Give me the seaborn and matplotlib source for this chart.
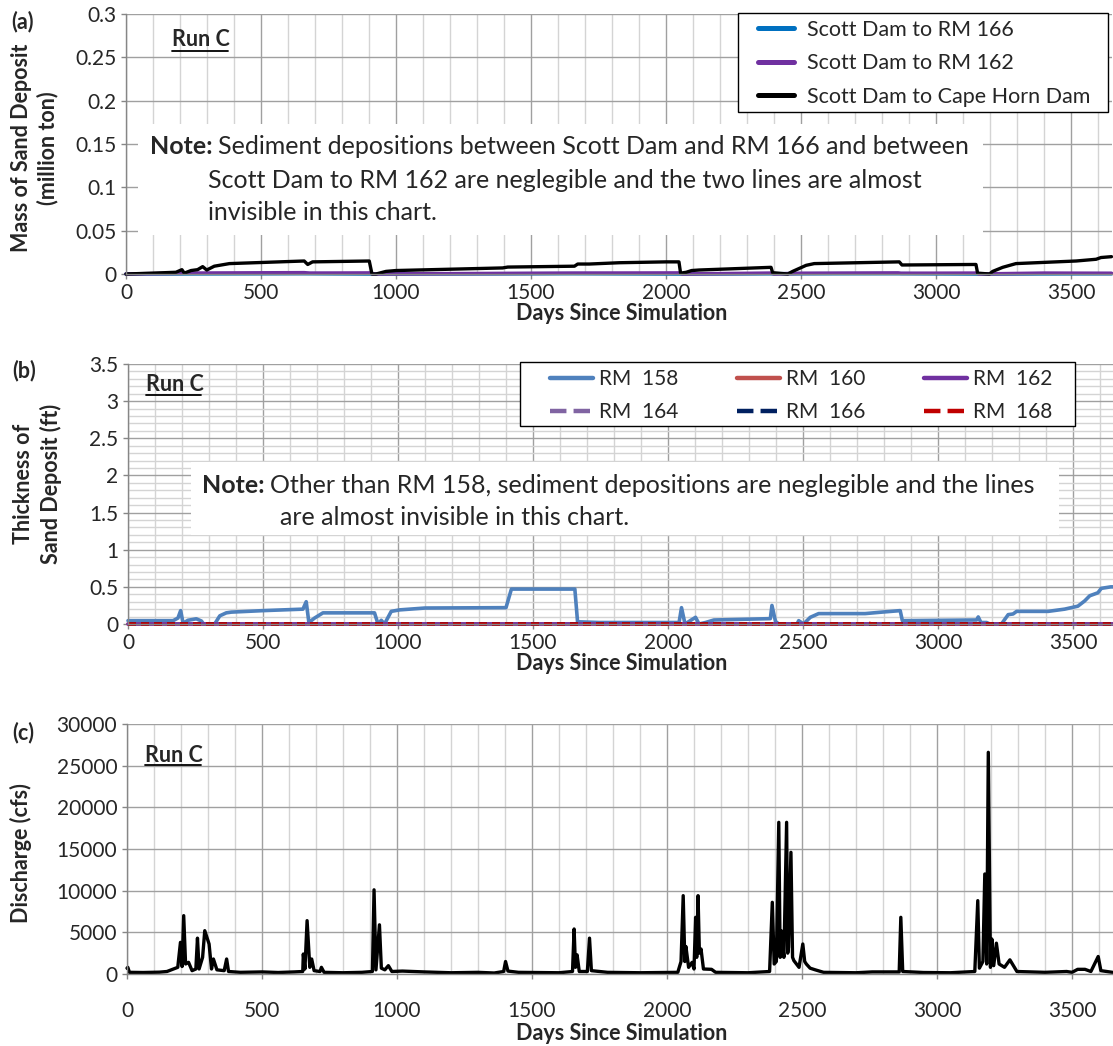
import numpy as np
import pandas as pd
import matplotlib
matplotlib.use("Agg")
import matplotlib.pyplot as plt
import seaborn as sns
from matplotlib.lines import Line2D
from matplotlib.patches import Rectangle
from matplotlib.ticker import FuncFormatter

# ---------------- data ----------------
# (a) mass of sand deposit (million ton)
a_cape_days = [0, 99, 185, 207, 216, 241, 265, 284, 299, 327, 383, 660, 673, 691, 901, 911, 926,
               963, 1000, 1395, 1414, 1661, 1673, 1716, 1827, 2000, 2048, 2054, 2075, 2095, 2123,
               2389, 2395, 2451, 2469, 2519, 2549, 2864, 2874, 3148, 3154, 3198, 3210, 3247, 3296,
               3519, 3593, 3611, 3650]
a_cape = [0, 0.001, 0.002, 0.005, 0.001, 0.004, 0.005, 0.0085, 0.0046, 0.009, 0.012, 0.015, 0.011,
          0.014, 0.015, 0.0, 0.0, 0.003, 0.004, 0.007, 0.008, 0.009, 0.0115, 0.0115, 0.013, 0.014,
          0.014, 0.001, 0.002, 0.004, 0.0046, 0.0077, 0.0015, 0.0, 0.003, 0.010, 0.012, 0.014,
          0.0104, 0.011, 0.001, 0.0, 0.003, 0.0077, 0.012, 0.015, 0.017, 0.019, 0.020]
a_162_days = [0, 200, 220, 660, 680, 905, 915, 1660, 2050, 2060, 2390, 2400, 2500, 2860, 2870,
              3150, 3160, 3400, 3650]
a_162 = [0, 0.0008, 0.001, 0.0015, 0.001, 0.0012, 0.0, 0.001, 0.0012, 0.0, 0.001, 0.0, 0.0008,
         0.0012, 0.0008, 0.001, 0.0, 0.001, 0.0008]
a_166_days = [0, 660, 915, 1660, 2050, 2390, 2860, 3150, 3650]
a_166 = [0, 0.0004, 0.0, 0.0004, 0.0, 0.0003, 0.0004, 0.0, 0.0003]

# (b) thickness of sand deposit (ft)
b_158_days = [0, 167, 185, 195, 204, 222, 253, 272, 280, 321, 340, 364, 383, 500, 648, 660, 670,
              691, 722, 913, 926, 938, 950, 975, 1006, 1100, 1400, 1420, 1655, 1665, 1745, 2041,
              2050, 2063, 2102, 2115, 2139, 2170, 2379, 2385, 2398, 2410, 2478, 2484, 2502, 2527,
              2558, 2730, 2792, 2860, 2868, 3143, 3149, 3159, 3180, 3192, 3235, 3260, 3278, 3291,
              3408, 3469, 3518, 3543, 3562, 3592, 3605, 3640, 3650]
b_158 = [0.045, 0.045, 0.08, 0.18, 0.01, 0.05, 0.07, 0.04, 0.0, 0.0, 0.11, 0.15, 0.16, 0.18, 0.20,
         0.30, 0.02, 0.08, 0.15, 0.15, 0.0, 0.05, 0.0, 0.17, 0.19, 0.215, 0.22, 0.47, 0.47, 0.03,
         0.02, 0.02, 0.22, 0.0, 0.09, 0.0, 0.02, 0.054, 0.072, 0.25, 0.036, 0.0, 0.0, 0.045, 0.0,
         0.09, 0.14, 0.14, 0.16, 0.18, 0.045, 0.054, 0.095, 0.02, 0.02, 0.0, 0.0, 0.126, 0.135,
         0.17, 0.17, 0.2, 0.24, 0.31, 0.38, 0.42, 0.48, 0.5, 0.5]
b_other_days = [0, 3650]
b_160 = [0, 0]
b_162 = [0, 0]
b_164 = [0, 0]
b_166 = [0, 0]
b_168_days = [0, 2730, 2742, 2754, 3650]
b_168 = [0, 0, 0.012, 0, 0]

# (c) discharge (cfs)
c_days = [0, 3, 9, 60, 120, 148, 188, 198, 204, 210, 217, 228, 241, 255, 261, 267, 280, 288, 296,
          304, 313, 320, 333, 360, 369, 376, 420, 500, 560, 620, 651, 653, 659, 667, 672, 677,
          684, 693, 715, 720, 730, 800, 870, 909, 915, 922, 935, 942, 955, 968, 981, 1020, 1100,
          1200, 1300, 1360, 1395, 1402, 1411, 1450, 1600, 1650, 1656, 1661, 1667, 1675, 1705,
          1713, 1720, 1780, 1900, 2040, 2052, 2060, 2066, 2070, 2080, 2093, 2100, 2106, 2110,
          2115, 2120, 2126, 2135, 2165, 2180, 2300, 2380, 2390, 2397, 2405, 2414, 2419, 2423,
          2433, 2443, 2447, 2450, 2459, 2465, 2470, 2489, 2503, 2510, 2516, 2530, 2549, 2580,
          2700, 2760, 2860, 2866, 2873, 2950, 3050, 3140, 3151, 3157, 3170, 3177, 3184, 3190,
          3198, 3203, 3210, 3220, 3230, 3250, 3270, 3296, 3400, 3480, 3500, 3521, 3548, 3570,
          3597, 3607, 3650]
c_q = [700, 800, 200, 180, 220, 300, 800, 3800, 900, 7000, 1200, 1400, 400, 600, 4300, 600, 2000,
       5200, 4400, 3600, 600, 1800, 500, 400, 1800, 300, 200, 250, 180, 250, 300, 2400, 600, 6400,
       3600, 800, 1800, 400, 300, 800, 200, 150, 200, 300, 10100, 500, 5900, 700, 500, 1000, 300,
       350, 250, 150, 200, 120, 300, 1500, 350, 200, 150, 300, 5400, 800, 2300, 300, 300, 4300,
       400, 200, 150, 200, 1500, 9400, 1500, 3300, 800, 1400, 600, 6800, 2000, 9400, 2500, 3000,
       600, 560, 200, 150, 300, 8600, 1200, 1500, 18200, 2000, 5200, 2000, 18200, 2500, 3200,
       14600, 2000, 1600, 800, 3600, 1500, 1200, 700, 500, 200, 150, 250, 250, 6800, 300, 180,
       150, 300, 8800, 700, 1500, 12000, 1200, 26600, 800, 4200, 1000, 3700, 1200, 800, 1700,
       300, 200, 300, 200, 560, 560, 300, 2100, 400, 200]

assert len(a_cape_days) == len(a_cape)
assert len(a_162_days) == len(a_162)
assert len(a_166_days) == len(a_166)
assert len(b_158_days) == len(b_158)
assert len(c_days) == len(c_q)

# ---------------- style ----------------
sns.set_style("white")
plt.rcParams['font.family'] = ['Lato', 'DejaVu Sans']
FS_TICK = 15
FS_LAB = 15.5
FS_NOTE = 18

W, H = 1113, 1046
fig = plt.figure(figsize=(W / 100, H / 100), dpi=100)
XMAX = 3650
PXD = 0.27


def ax_at(l, t, b):
    r = l + XMAX * PXD
    return fig.add_axes([l / W, 1 - b / H, (r - l) / W, (b - t) / H])


axa = ax_at(126, 14, 274)
axb = ax_at(128, 364, 624)
axc = ax_at(127, 724, 974)

GMAJ = '#a0a0a0'
GMIN = '#d4d4d4'


def style(ax, yticks, yminor=None, fmt=None, xpad=4):
    ax.set_xlim(0, XMAX)
    ax.set_ylim(yticks[0], yticks[-1])
    ax.set_xticks(np.arange(0, 3501, 500))
    ax.set_xticks(np.arange(0, 3651, 100), minor=True)
    ax.set_yticks(yticks)
    if yminor is not None:
        ax.set_yticks(yminor, minor=True)
    ax.grid(which='major', color=GMAJ, lw=1.0)
    ax.grid(which='minor', axis='x', color=GMIN, lw=1.0)
    if yminor is not None:
        ax.grid(which='minor', axis='y', color=GMIN, lw=1.0)
    ax.set_axisbelow(True)
    ax.tick_params(which='major', direction='out', length=3.5, width=1, color='#868686',
                   labelsize=FS_TICK, bottom=True, left=True)
    ax.tick_params(axis='y', which='major', pad=3.5)
    ax.tick_params(axis='x', which='major', pad=xpad)
    ax.tick_params(which='minor', length=0)
    for s in ['top', 'right']:
        ax.spines[s].set_visible(False)
    for s in ['left', 'bottom']:
        ax.spines[s].set_color('#868686')
        ax.spines[s].set_linewidth(1.0)
    if fmt:
        ax.yaxis.set_major_formatter(FuncFormatter(fmt))
    ax.set_xlabel('')
    ax.set_ylabel('')
    for l in ax.get_lines():
        l.set_clip_on(False)


def runc(ax, x0, x1, y, yu):
    ax.text(x0, y, 'Run C', transform=ax.transAxes, fontsize=FS_LAB, fontweight='bold',
            ha='left', va='center', zorder=5)
    ax.add_line(Line2D([x0, x1], [yu, yu], transform=ax.transAxes, color='black', lw=1.3,
                       zorder=5))


def frame(ax, l, t, r, b):
    ax.add_patch(Rectangle((l / W, 1 - b / H), (r - l) / W, (b - t) / H,
                           transform=fig.transFigure, facecolor='white', edgecolor='black',
                           lw=1.0, zorder=4, clip_on=False))


# ---------------- panel (a) ----------------
sns.lineplot(x=a_166_days, y=a_166, ax=axa, color='#0070C0', lw=2.6, label='Scott Dam to RM 166')
sns.lineplot(x=a_162_days, y=a_162, ax=axa, color='#7030A0', lw=2.6, label='Scott Dam to RM 162')
sns.lineplot(x=a_cape_days, y=a_cape, ax=axa, color='black', lw=2.4,
             label='Scott Dam to Cape Horn Dam')
style(axa, [0, 0.05, 0.1, 0.15, 0.2, 0.25, 0.3], fmt=lambda v, p: f'{v:g}', xpad=3)
hl, lb = axa.get_legend_handles_labels()
hl = [Line2D([], [], color=h.get_color(), lw=3.6) for h in hl]
frame(axa, 738, 13, 1108, 112)
leg = axa.legend(hl, lb, loc='upper left', bbox_to_anchor=(758 / W, 1 - 20 / H),
                 bbox_transform=fig.transFigure, fontsize=FS_LAB, frameon=False,
                 handlelength=1.65, handletextpad=0.62, labelspacing=0.62, borderpad=0,
                 borderaxespad=0)
leg.set_zorder(6)

axa.add_patch(Rectangle((0.012, 0.15), 0.858, 0.427, transform=axa.transAxes, facecolor='white',
                        edgecolor='none', zorder=1))
axa.text(0.088, 0.49, 'Note:', transform=axa.transAxes, fontsize=FS_NOTE, fontweight='bold',
         ha='right', va='center', zorder=5)
axa.text(0.0933, 0.49, 'Sediment depositions between Scott Dam and RM 166 and between',
         transform=axa.transAxes, fontsize=FS_NOTE, ha='left', va='center', zorder=5)
axa.text(0.0832, 0.3615, 'Scott Dam to RM 162 are neglegible and the two lines are almost',
         transform=axa.transAxes, fontsize=FS_NOTE, ha='left', va='center', zorder=5)
axa.text(0.0832, 0.238, 'invisible in this chart.',
         transform=axa.transAxes, fontsize=FS_NOTE, ha='left', va='center', zorder=5)
runc(axa, 0.047, 0.104, 0.90, 0.858)

# ---------------- panel (b) ----------------
dash = (0, (2.2, 1.4))
sns.lineplot(x=b_158_days, y=b_158, ax=axb, color='#4F81BD', lw=2.6, label='RM  158')
sns.lineplot(x=b_other_days, y=b_160, ax=axb, color='#C0504D', lw=2.6, label='RM  160')
sns.lineplot(x=b_other_days, y=b_162, ax=axb, color='#7030A0', lw=2.6, label='RM  162')
sns.lineplot(x=b_other_days, y=b_164, ax=axb, color='#8064A2', lw=2.6, label='RM  164',
             linestyle=dash)
sns.lineplot(x=b_other_days, y=b_166, ax=axb, color='#002060', lw=2.6, label='RM  166',
             linestyle=dash)
sns.lineplot(x=b_168_days, y=b_168, ax=axb, color='#C00000', lw=2.6, label='RM  168',
             linestyle=dash)
style(axb, [0, 0.5, 1, 1.5, 2, 2.5, 3, 3.5], yminor=np.round(np.arange(0, 3.51, 0.1), 2),
      fmt=lambda v, p: f'{v:g}', xpad=3)
hl, lb = axb.get_legend_handles_labels()
hl = [Line2D([], [], color=h.get_color(), lw=3.2, linestyle=h.get_linestyle()) for h in hl]
order = [0, 3, 1, 4, 2, 5]
frame(axb, 520, 362, 1075, 426)
leg = axb.legend([hl[i] for i in order], [lb[i] for i in order], ncol=3, loc='upper left',
                 bbox_to_anchor=(550 / W, 1 - 369 / H), bbox_transform=fig.transFigure,
                 fontsize=15, frameon=False, handlelength=2.07, handletextpad=0.29,
                 columnspacing=2.8, labelspacing=0.62, borderpad=0, borderaxespad=0)
leg.set_zorder(6)

axb.add_patch(Rectangle((0.064, 0.342), 0.881, 0.281, transform=axb.transAxes, facecolor='white',
                        edgecolor='none', zorder=1))
axb.text(0.139, 0.5346, 'Note:', transform=axb.transAxes, fontsize=FS_NOTE, fontweight='bold',
         ha='right', va='center', zorder=5)
axb.text(0.1445, 0.5346,
         'Other than RM 158, sediment depositions are neglegible and the lines',
         transform=axb.transAxes, fontsize=FS_NOTE, ha='left', va='center', zorder=5)
axb.text(0.1545, 0.4077, 'are almost invisible in this chart.',
         transform=axb.transAxes, fontsize=FS_NOTE, ha='left', va='center', zorder=5)
runc(axb, 0.018, 0.0745, 0.923, 0.881)

# ---------------- panel (c) ----------------
sns.lineplot(x=c_days, y=c_q, ax=axc, color='black', lw=2.4)
style(axc, [0, 5000, 10000, 15000, 20000, 25000, 30000], fmt=lambda v, p: f'{v:.0f}', xpad=16)
runc(axc, 0.018, 0.075, 0.876, 0.836)
if axc.get_legend():
    axc.get_legend().remove()

# ---------------- labels ----------------
for y in (313, 663, 1034):
    fig.text(622 / W, 1 - y / H, 'Days Since Simulation', fontsize=FS_LAB, fontweight='bold',
             ha='center', va='center')
fig.text(22 / W, 1 - 148 / H, 'Mass of Sand Deposit', rotation=90, fontsize=FS_LAB,
         fontweight='bold', ha='center', va='center')
fig.text(48 / W, 1 - 148 / H, '(million ton)', rotation=90, fontsize=FS_LAB,
         fontweight='bold', ha='center', va='center')
fig.text(24 / W, 1 - 484 / H, 'Thickness of', rotation=90, fontsize=FS_LAB,
         fontweight='bold', ha='center', va='center')
fig.text(51 / W, 1 - 484 / H, 'Sand Deposit (ft)', rotation=90, fontsize=FS_LAB,
         fontweight='bold', ha='center', va='center')
fig.text(21 / W, 1 - 853 / H, 'Discharge (cfs)', rotation=90, fontsize=FS_LAB,
         fontweight='bold', ha='center', va='center')
fig.text(23 / W, 1 - 22 / H, '(a)', fontsize=FS_LAB, fontweight='bold', ha='center', va='center')
fig.text(24 / W, 1 - 371 / H, '(b)', fontsize=FS_LAB, fontweight='bold', ha='center', va='center')
fig.text(23 / W, 1 - 733 / H, '(c)', fontsize=FS_LAB, fontweight='bold', ha='center', va='center')

fig.savefig('out.png', dpi=100)
